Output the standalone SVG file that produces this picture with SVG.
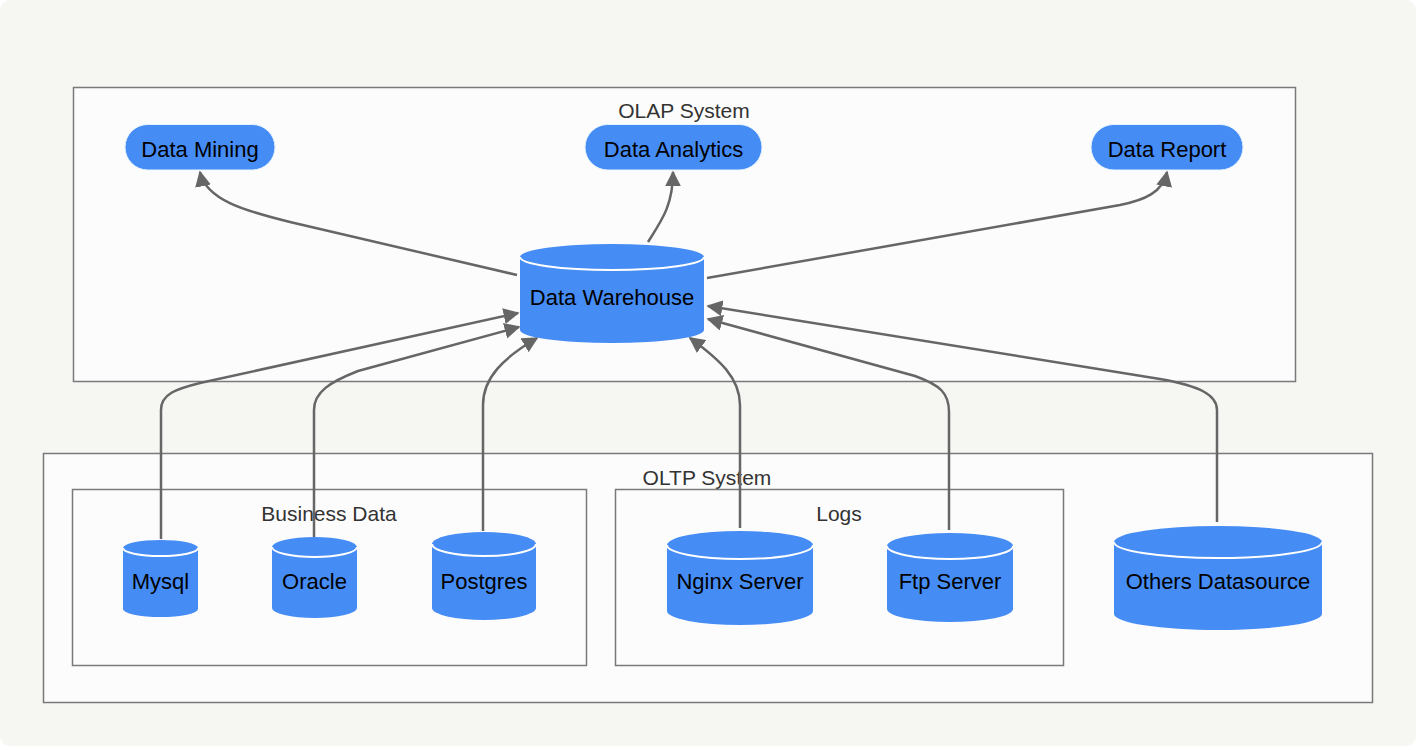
<svg xmlns="http://www.w3.org/2000/svg" width="1416" height="750" viewBox="0 0 1416 750">
<style>
.bg{fill:#f6f6f3}
.cluster{fill:#fcfcfc;stroke:#7a7a7a;stroke-width:1.5}
.clabel{font-family:"Liberation Sans",Arial,sans-serif;font-size:21px;fill:#333;text-anchor:middle}
.node{fill:#468cf5;stroke:#e6f4ff;stroke-width:1}
.cyl{fill:#468cf5;stroke:none}
.cyltop{fill:none;stroke:#ffffff;stroke-width:2}
.ntext{font-family:"Liberation Sans",Arial,sans-serif;font-size:22px;fill:#000;text-anchor:middle}
.edge{fill:none;stroke:#666;stroke-width:2.5}
</style>
<defs>
<marker id="arrow" viewBox="0 0 10 10" refX="9" refY="5" markerWidth="16" markerHeight="16" markerUnits="userSpaceOnUse" orient="auto">
<path d="M0,0 L10,5 L0,10 z" fill="#666"/>
</marker>
</defs>
<rect x="0" y="0" width="1416" height="750" fill="#ffffff"/>
<rect class="bg" x="0" y="0" width="1416" height="746" rx="10"/>

<g id="cluster-olap">
<rect class="cluster" x="73.5" y="87.5" width="1222" height="294"/>
<text class="clabel" x="684" y="118">OLAP System</text>
</g>
<g id="cluster-oltp">
<rect class="cluster" x="43.5" y="453.5" width="1329" height="249"/>
<text class="clabel" x="707" y="485">OLTP System</text>
</g>
<g id="cluster-business">
<rect class="cluster" x="72.5" y="489.5" width="514" height="176"/>
<text class="clabel" x="329" y="521">Business Data</text>
</g>
<g id="cluster-logs">
<rect class="cluster" x="615.5" y="489.5" width="448" height="176"/>
<text class="clabel" x="839" y="521">Logs</text>
</g>

<g id="connectors">
<path class="edge" marker-end="url(#arrow)" d="M517,275 L290,222 C245,211 206,200 200,172"/>
<path class="edge" marker-end="url(#arrow)" d="M648,242 C662,220 673,205 673,172"/>
<path class="edge" marker-end="url(#arrow)" d="M707,278 L1120,205 C1145,200 1163,192 1167,172"/>
<path class="edge" marker-end="url(#arrow)" d="M161,539 L161,410 C161,394 176,389 200,383 L518,313"/>
<path class="edge" marker-end="url(#arrow)" d="M314,537 L314,410 C314,392 330,382 358,371 L519,327"/>
<path class="edge" marker-end="url(#arrow)" d="M483,531 L483,405 C483,378 503,358 537,338"/>
<path class="edge" marker-end="url(#arrow)" d="M740,528 L740,405 C740,378 720,360 690,338"/>
<path class="edge" marker-end="url(#arrow)" d="M949,530 L949,412 C949,393 940,385 915,376 L708,319"/>
<path class="edge" marker-end="url(#arrow)" d="M1217,522 L1217,410 C1217,395 1200,386 1160,379 L708,306"/>
</g>

<g id="node-data-mining">
<rect class="node" x="125" y="124.5" width="150" height="45.5" rx="22.75"/>
<text class="ntext" x="200" y="157">Data Mining</text>
</g>
<g id="node-data-analytics">
<rect class="node" x="585" y="124.5" width="177" height="45.5" rx="22.75"/>
<text class="ntext" x="673.5" y="157">Data Analytics</text>
</g>
<g id="node-data-report">
<rect class="node" x="1091" y="124.5" width="152" height="45.5" rx="22.75"/>
<text class="ntext" x="1167" y="157">Data Report</text>
</g>

<g id="node-data-warehouse">
<path class="cyl" d="M520,257 a92,13 0 0 0 184,0 a92,13 0 0 0 -184,0 l0,73 a92,13 0 0 0 184,0 l0,-73"/>
<path class="cyltop" d="M520,257 a92,13 0 0 0 184,0"/>
<text class="ntext" x="612" y="305">Data Warehouse</text>
</g>

<g id="node-mysql">
<path class="cyl" d="M123,548 a37.5,8 0 0 0 75,0 a37.5,8 0 0 0 -75,0 l0,61 a37.5,8 0 0 0 75,0 l0,-61"/>
<path class="cyltop" d="M123,548 a37.5,8 0 0 0 75,0"/>
<text class="ntext" x="160.5" y="589">Mysql</text>
</g>
<g id="node-oracle">
<path class="cyl" d="M272,547 a42.5,10 0 0 0 85,0 a42.5,10 0 0 0 -85,0 l0,61 a42.5,10 0 0 0 85,0 l0,-61"/>
<path class="cyltop" d="M272,547 a42.5,10 0 0 0 85,0"/>
<text class="ntext" x="314.5" y="589">Oracle</text>
</g>
<g id="node-postgres">
<path class="cyl" d="M432,544 a52,12 0 0 0 104,0 a52,12 0 0 0 -104,0 l0,64 a52,12 0 0 0 104,0 l0,-64"/>
<path class="cyltop" d="M432,544 a52,12 0 0 0 104,0"/>
<text class="ntext" x="484" y="589">Postgres</text>
</g>
<g id="node-nginx">
<path class="cyl" d="M667,545 a73,14 0 0 0 146,0 a73,14 0 0 0 -146,0 l0,66 a73,14 0 0 0 146,0 l0,-66"/>
<path class="cyltop" d="M667,545 a73,14 0 0 0 146,0"/>
<text class="ntext" x="740" y="589">Nginx Server</text>
</g>
<g id="node-ftp">
<path class="cyl" d="M887,546 a63,13 0 0 0 126,0 a63,13 0 0 0 -126,0 l0,63 a63,13 0 0 0 126,0 l0,-63"/>
<path class="cyltop" d="M887,546 a63,13 0 0 0 126,0"/>
<text class="ntext" x="950" y="589">Ftp Server</text>
</g>
<g id="node-others">
<path class="cyl" d="M1114,542 a104,16 0 0 0 208,0 a104,16 0 0 0 -208,0 l0,72 a104,16 0 0 0 208,0 l0,-72"/>
<path class="cyltop" d="M1114,542 a104,16 0 0 0 208,0"/>
<text class="ntext" x="1218" y="589">Others Datasource</text>
</g>
</svg>
